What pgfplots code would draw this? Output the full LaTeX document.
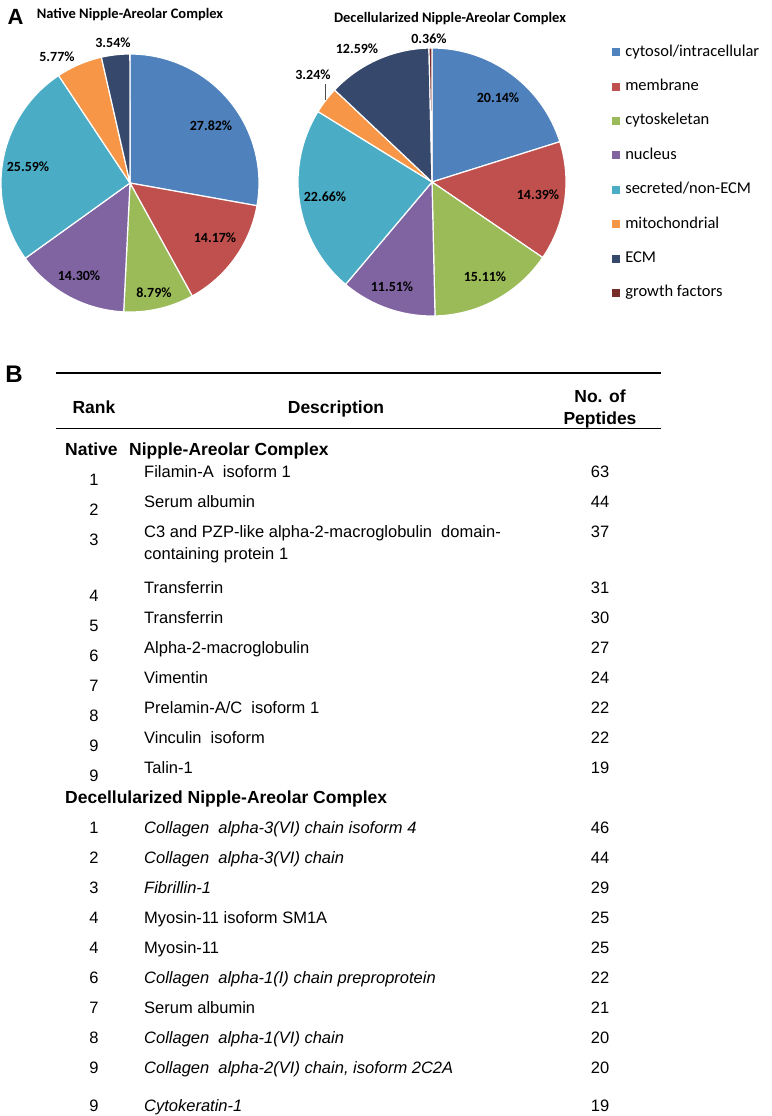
\documentclass[border=0pt]{standalone}
\usepackage{pgfplots}
\pgfplotsset{compat=1.18}
\usepackage{fontspec}
\setmainfont{Liberation Sans}
\newfontfamily\carl{Carlito}

\definecolor{cCyto}{HTML}{4F81BD}
\definecolor{cMemb}{HTML}{C0504D}
\definecolor{cSkel}{HTML}{9BBB59}
\definecolor{cNucl}{HTML}{8064A2}
\definecolor{cSecr}{HTML}{4BACC6}
\definecolor{cMito}{HTML}{F79646}
\definecolor{cECM}{HTML}{36496C}
\definecolor{cGrow}{HTML}{772C2A}

% one pie slice: colour, percentage (slices run clockwise from 12 o'clock)
\gdef\pstart{0}
\newcommand\slice[2]{%
  \pgfmathsetmacro\pa{90-3.6*(\pstart+#2)}%
  \pgfmathsetmacro\pb{90-3.6*\pstart}%
  \edef\tmp{\noexpand\addplot[fill=#1, draw=white, line width=1.2pt,
    domain=\pa:\pb, samples=60] ({cos(x)},{sin(x)}) -- (0,0) -- cycle;}%
  \tmp
  \pgfmathsetmacro\pnew{\pstart+#2}%
  \xdef\pstart{\pnew}}

\pgfplotsset{pie/.style={anchor=origin, scale only axis, hide axis, clip=false,
  xmin=-1, xmax=1, ymin=-1, ymax=1,
  legend image code/.code={\fill[##1, draw=none] (0pt,-4pt) rectangle (8pt,4pt);}}}

\newcommand\reg{\fontsize{16.5}{18}\selectfont}
\newcommand\bld{\fontsize{17.5}{19}\selectfont\bfseries}
\newcommand\dsp{\hspace{0.55em}}

\begin{document}
\begin{tikzpicture}
\path[use as bounding box] (0,0) rectangle (771pt,-1116pt);

\begin{axis}[pie, at={(130pt,-183pt)}, width=258pt, height=258pt]
\gdef\pstart{0}
\slice{cCyto}{27.82}
\slice{cMemb}{14.17}
\slice{cSkel}{8.79}
\slice{cNucl}{14.30}
\slice{cSecr}{25.59}
\slice{cMito}{5.77}
\slice{cECM}{3.54}
\end{axis}

\begin{axis}[pie, at={(432pt,-182pt)}, width=268pt, height=268pt,
  legend entries={cytosol/intracellular, membrane, cytoskeletan, nucleus,
    secreted/non-ECM, mitochondrial, ECM, growth factors},
  legend cell align=left,
  legend style={at={(axis description cs:1.172,1.015)}, anchor=north west,
    draw=none, fill=none, inner sep=0pt, row sep=18.4pt, column sep=5pt,
    font=\carl\fontsize{16.5}{18}\selectfont,
    nodes={inner sep=0pt, text height=12pt, text depth=4pt}}]
\gdef\pstart{0}
\slice{cCyto}{20.14}
\slice{cMemb}{14.39}
\slice{cSkel}{15.11}
\slice{cNucl}{11.51}
\slice{cSecr}{22.66}
\slice{cMito}{3.24}
\slice{cECM}{12.59}
\slice{cGrow}{0.36}
\end{axis}

\begin{scope}[x=1pt, y=-1pt]
% panel letters and pie titles
\node[font=\fontsize{22}{22}\selectfont\bfseries, inner sep=0pt] at (15.5,17) {A};
\node[font=\fontsize{24}{24}\selectfont\bfseries, inner sep=0pt] at (14,374) {B};
\node[font=\carl\fontsize{14.5}{16}\selectfont\bfseries, inner sep=0pt] at (130,15) {Native Nipple-Areolar Complex};
\node[font=\carl\fontsize{14.5}{16}\selectfont\bfseries, inner sep=0pt] at (450,19) {Decellularized Nipple-Areolar Complex};

% slice labels
\begin{scope}[every node/.style={font=\carl\fontsize{14}{16}\selectfont\bfseries, inner sep=0pt}]
\node at (211,126) {27.82\%};
\node at (215,238) {14.17\%};
\node at (154,293) {8.79\%};
\node at (79,276) {14.30\%};
\node at (28,167) {25.59\%};
\node at (57,57) {5.77\%};
\node at (113,43) {3.54\%};
\node at (429,39) {0.36\%};
\node at (357,49) {12.59\%};
\node at (313,75) {3.24\%};
\node at (498,98) {20.14\%};
\node at (538,195) {14.39\%};
\node at (485,277) {15.11\%};
\node at (392,287) {11.51\%};
\node at (325,197) {22.66\%};
\end{scope}
\draw[black!70, line width=0.6pt] (325.7,84) -- (325.7,100);

% table
\draw[line width=1.6pt] (56,372.7) -- (661,372.7);
\draw[line width=1.6pt] (56,428.5) -- (661,428.5);
\begin{scope}[every node/.style={inner sep=0pt}]
\node[anchor=base, font=\bld] at (94,413) {Rank};
\node[anchor=base, font=\bld] at (336,413) {Description};
\node[anchor=base, font=\bld] at (600,402.5) {No. of};
\node[anchor=base, font=\bld] at (600,424) {Peptides};
\node[anchor=base west, font=\bld] at (65,455) {Native};
\node[anchor=base west, font=\bld] at (129,455) {Nipple-Areolar Complex};
\node[anchor=base west, font=\bld] at (65,803) {Decellularized Nipple-Areolar Complex};

\begin{scope}[font=\reg]
% native rows: rank, rank baseline, description baseline, description, peptides
\foreach \r/\rb/\db/\d/\n in {
  1/485/477/{Filamin-A\dsp isoform 1}/63,
  2/515/507/{Serum albumin}/44,
  3/545/537/{C3 and PZP-like alpha-2-macroglobulin\dsp domain-}/37,
  4/601/593/{Transferrin}/31,
  5/631/623/{Transferrin}/30,
  6/661/653/{Alpha-2-macroglobulin}/27,
  7/691/683/{Vimentin}/24,
  8/721/713/{Prelamin-A/C\dsp isoform 1}/22,
  9/751/743/{Vinculin\dsp isoform}/22,
  9/781/773/{Talin-1}/19}{
  \node[anchor=base] at (94,\rb) {\r};
  \node[anchor=base west] at (144,\db) {\d};
  \node[anchor=base] at (600,\db) {\n};
}
\node[anchor=base west] at (144,559) {containing protein 1};
% decellularized rows
\foreach \r/\db/\d/\n in {
  1/833/{\itshape Collagen\dsp alpha-3(VI) chain isoform 4}/46,
  2/863/{\itshape Collagen\dsp alpha-3(VI) chain}/44,
  3/893/{\itshape Fibrillin-1}/29,
  4/923/{Myosin-11 isoform SM1A}/25,
  4/953/{Myosin-11}/25,
  6/983/{\itshape Collagen\dsp alpha-1(I) chain preproprotein}/22,
  7/1013/{Serum albumin}/21,
  8/1043/{\itshape Collagen\dsp alpha-1(VI) chain}/20,
  9/1073/{\itshape Collagen\dsp alpha-2(VI) chain, isoform 2C2A}/20,
  9/1111/{\itshape Cytokeratin-1}/19}{
  \node[anchor=base] at (94,\db) {\r};
  \node[anchor=base west] at (144,\db) {\d};
  \node[anchor=base] at (600,\db) {\n};
}
\end{scope}
\end{scope}
\end{scope}
\end{tikzpicture}
\end{document}
